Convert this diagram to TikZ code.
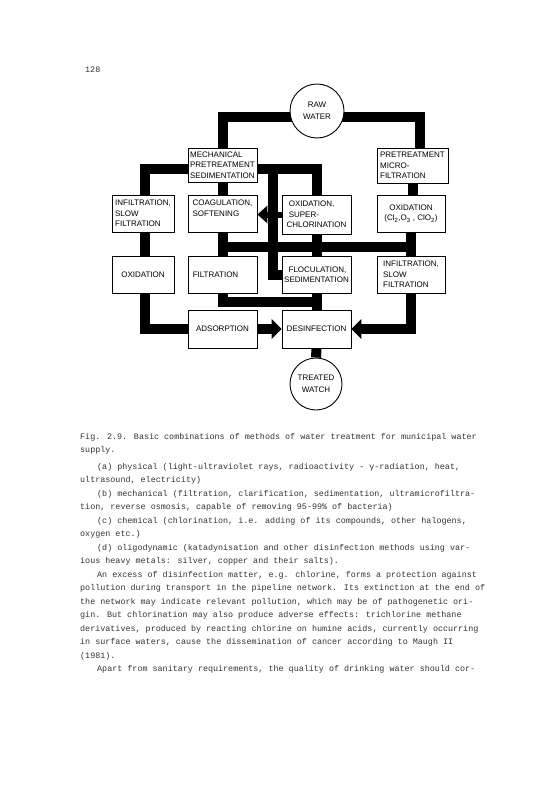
\documentclass[tikz,border=0pt]{standalone}
\usepackage{fontspec}
\setmainfont{Liberation Serif}
\newfontfamily\boxfont{Liberation Sans}
\newfontfamily\typefont{Liberation Mono}
\usetikzlibrary{arrows.meta,calc,backgrounds}
\begin{document}
\begin{tikzpicture}[x=1pt,y=-1pt,
  box/.style={draw, line width=0.9pt, fill=white, inner sep=0.5pt, align=left,
    font=\boxfont\fontsize{8}{10.5}\selectfont},
  circ/.style={draw, circle, line width=0.9pt, fill=white, inner sep=0pt, align=center,
    minimum size=54pt, font=\boxfont\fontsize{8}{12}\selectfont},
  bar/.style={draw=black, line width=10pt, line cap=butt, line join=miter},
  thinbar/.style={draw=black, line width=6pt, line cap=butt},
  bigtip/.style={-{Triangle[length=10pt,width=20pt,line width=0pt]}},
  smalltip/.style={-{Triangle[length=10pt,width=18pt,line width=0pt]}},
  txt/.style={anchor=base west, inner sep=0pt, text=black!80,
    font=\typefont\fontsize{8.4}{10}\selectfont}
]
\useasboundingbox (0,0) rectangle (558,800);

% nodes
\node[circ] (raw) at (317,111) {RAW\\WATER};
\node[box, minimum width=69pt, minimum height=34pt] (mech) at (222.5,165) {MECHANICAL\\PRETREATMENT\\SEDIMENTATION};
\node[box, minimum width=71pt, minimum height=35pt] (pre) at (412.5,165.5) {PRETREATMENT\\MICRO-\\FILTRATION};
\node[box, minimum width=62pt, minimum height=37pt] (inf1) at (143,213.5) {INFILTRATION,\\SLOW\\FILTRATION};
\node[box, minimum width=69pt, minimum height=37pt] (coag) at (222.5,213.5) {COAGULATION,\\SOFTENING\\\mbox{}};
\node[box, minimum width=69pt, minimum height=39pt] (oxs) at (316.5,214.5) {\ OXIDATION,\\\ SUPER-\\CHLORINATION};
\node[box, minimum width=68pt, minimum height=37pt, align=center] (oxc) at (411,213.5) {OXIDATION\\(Cl\textsubscript{2},O\textsubscript{3} , ClO\textsubscript{2})};
\node[box, minimum width=62pt, minimum height=37pt, align=center] (ox) at (143,274.5) {OXIDATION};
\node[box, minimum width=69pt, minimum height=37pt] (filt) at (222.5,274.5) {FILTRATION\hspace{14pt}};
\node[box, minimum width=69pt, minimum height=37pt] (floc) at (316.5,274.5) {\ \ FLOCULATION,\\SEDIMENTATION};
\node[box, minimum width=68pt, minimum height=37pt] (inf2) at (411,274.5) {INFILTRATION,\\SLOW\\FILTRATION};
\node[box, minimum width=69pt, minimum height=38pt, align=center] (ads) at (222.5,329) {ADSORPTION};
\node[box, minimum width=69pt, minimum height=38pt, align=center] (des) at (316.5,329) {DESINFECTION};
\node[circ, minimum size=52pt] (treated) at (316,384) {TREATED\\WATCH};

% connectors
\begin{scope}[on background layer]
\draw[bar] ($(raw.center)+(0,6)$) -| (mech.north);
\draw[bar] ($(raw.center)+(0,6)$) -| ($(pre.north)+(7.5,0)$);
\draw[bar] ($(mech.west)+(0,3.5)$) -| ($(inf1.north)+(2,0)$);
\draw[bar] (mech.south) -- (coag.north);
\coordinate (j1) at ($(mech.east)+(16,3.5)$);
\draw[bar] ($(mech.east)+(0,3.5)$) -| (oxs.north);
\draw[bar] ($(j1)+(0,-5)$) |- (floc.west);
\draw[bar] (pre.south) -- (pre.south |- oxc.north);
\draw[bar] (coag.south) -- (filt.north);
\draw[bar] ($(inf1.south)+(2,0)$) -- ($(ox.north)+(2,0)$);
\draw[bar] (oxs.south) -- (floc.north);
\draw[bar] (oxc.south) -- (inf2.north);
\coordinate (j2) at ($(coag.south)+(-5,15)$);
\coordinate (j3) at ($(oxc.south)+(5,15)$);
\draw[bar] (j2) -- (j3);
\coordinate (j4) at ($(des.north)+(0,-8)$);
\draw[bar] (filt.south) |- (j4);
\draw[bar] (floc.south) -- (des.north);
\draw[bar] ($(ox.south)+(2,0)$) |- (ads.west);
\draw[bar, bigtip] (ads.east) -- (des.west);
\draw[bar, bigtip] (inf2.south) |- (des.east);
\draw[bar] (des.south) -- (treated.north);
\end{scope}
\draw[thinbar, smalltip] (oxs.west) -- (oxs.west -| coag.east);

% page text
\node[txt] (pg) at (85,73) {128};
\node[txt] (t1) at (80,439) {Fig. 2.9. Basic combinations of methods of water treatment for municipal water};
\node[txt] (t2) at (80,452) {supply.};
\node[txt] (t3) at (97,469) {(a) physical (light-ultraviolet rays, radioactivity -  γ-radiation, heat,};
\node[txt] (t4) at (80,482.5) {ultrasound, electricity)};
\node[txt] (t5) at (97,496) {(b) mechanical (filtration, clarification, sedimentation, ultramicrofiltra-};
\node[txt] (t6) at (80,509.5) {tion, reverse osmosis, capable of removing 95-99\% of bacteria)};
\node[txt] (t7) at (97,523) {(c) chemical (chlorination, i.e. adding of its compounds, other halogens,};
\node[txt] (t8) at (80,536.5) {oxygen etc.)};
\node[txt] (t9) at (97,550) {(d) oligodynamic (katadynisation and other disinfection methods using var-};
\node[txt] (t10) at (80,563.5) {ious heavy metals: silver, copper and their salts).};
\node[txt] (t11) at (97,577) {An excess of disinfection matter, e.g. chlorine, forms a protection against};
\node[txt] (t12) at (80,590.5) {pollution during transport in the pipeline network. Its extinction at the end of};
\node[txt] (t13) at (80,604) {the network may indicate relevant pollution, which may be of pathogenetic ori-};
\node[txt] (t14) at (80,617.5) {gin. But chlorination may also produce adverse effects: trichlorine methane};
\node[txt] (t15) at (80,631) {derivatives, produced by reacting chlorine on humine acids, currently occurring};
\node[txt] (t16) at (80,644.5) {in surface waters, cause the dissemination of cancer according to Maugh II};
\node[txt] (t17) at (80,658) {(1981).};
\node[txt] (t18) at (97,671.5) {Apart from sanitary requirements, the quality of drinking water should cor-};
\end{tikzpicture}
\end{document}
